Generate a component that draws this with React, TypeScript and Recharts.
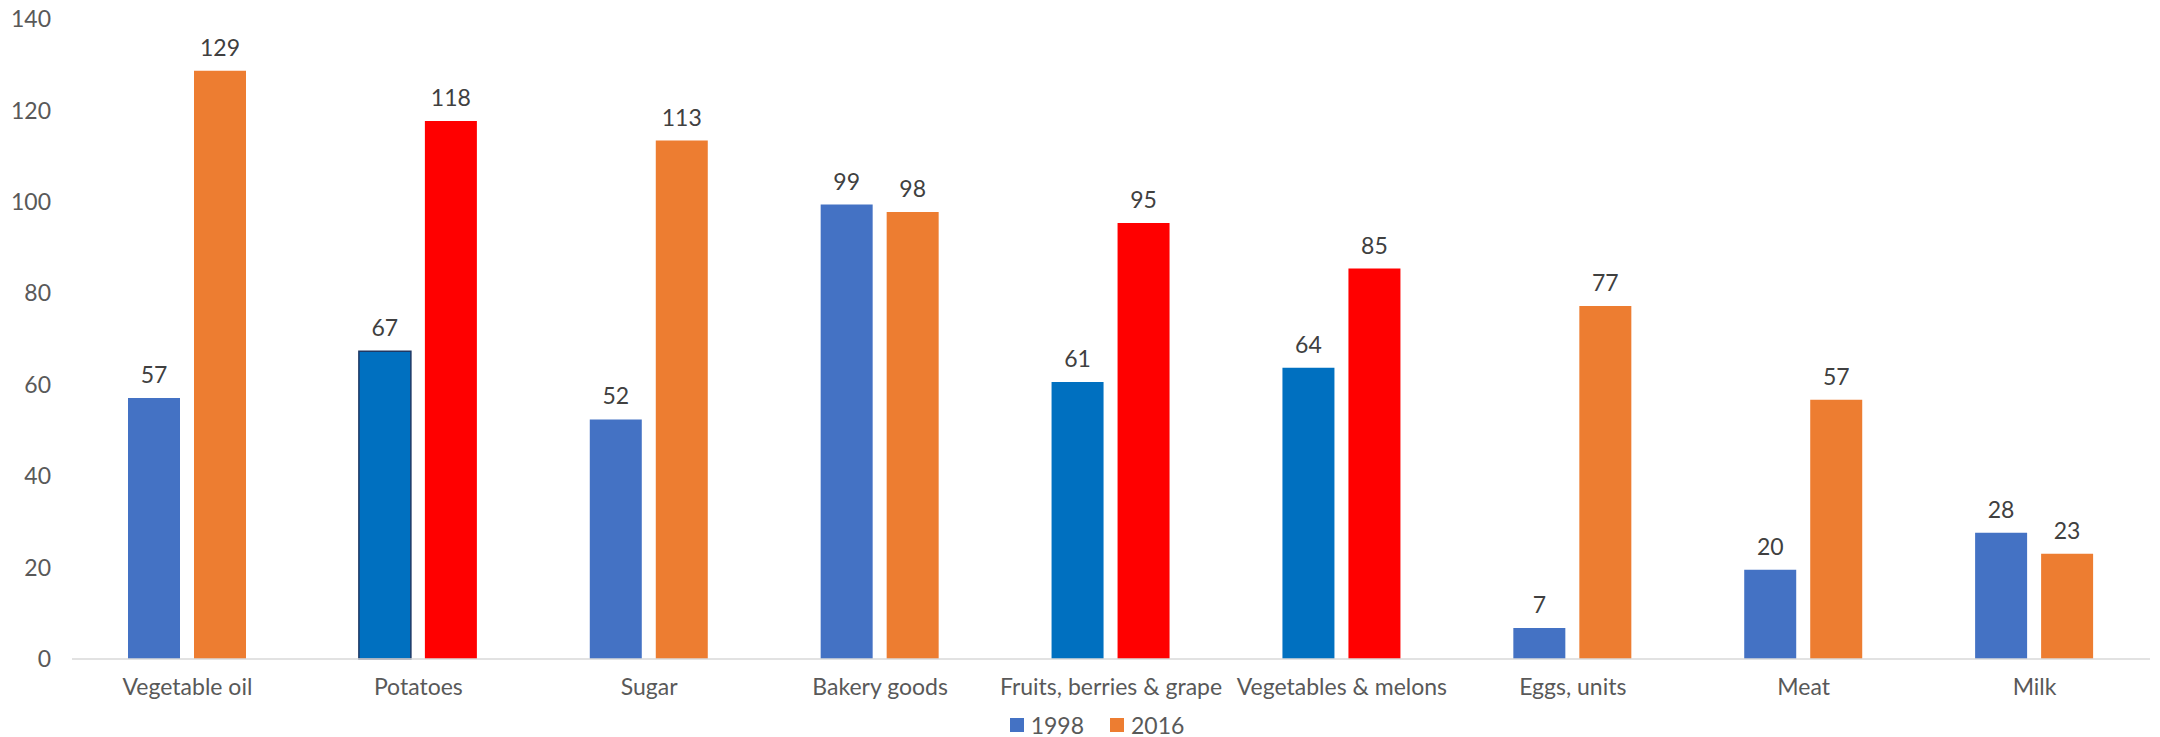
import React from 'react';
import { BarChart, Bar, XAxis, YAxis, Legend, Cell, LabelList } from 'recharts';

const categories = [
  'Vegetable oil',
  'Potatoes',
  'Sugar',
  'Bakery goods',
  'Fruits, berries & grape',
  'Vegetables & melons',
  'Eggs, units',
  'Meat',
  'Milk',
];
const values1998 = [57.1, 67.3, 52.4, 99.4, 60.6, 63.7, 6.8, 19.5, 27.6];
const values2016 = [128.7, 117.7, 113.4, 97.8, 95.4, 85.4, 77.2, 56.7, 23.0];
const highlighted = ['Potatoes', 'Fruits, berries & grape', 'Vegetables & melons'];
const outlined = ['Potatoes'];
const yTicks = [0, 20, 40, 60, 80, 100, 120, 140];
const seriesNames = ['1998', '2016'];
const seriesColors = ['#4472C4', '#ED7D31'];

const data = categories.map((c, i) => ({ name: c, v1998: values1998[i], v2016: values2016[i] }));

const FONT = 'Lato, "Open Sans", sans-serif';

const LegendContent = () => (
  <div
    style={{
      display: 'flex',
      justifyContent: 'center',
      alignItems: 'center',
      gap: 26,
      paddingLeft: 44,
      height: 24,
      fontFamily: FONT,
      fontSize: 23,
      color: '#595959',
    }}
  >
    {seriesNames.map((n, i) => (
      <div key={n} style={{ display: 'flex', alignItems: 'center', gap: 7 }}>
        <div style={{ width: 14, height: 14, background: seriesColors[i] }} />
        <span>{n}</span>
      </div>
    ))}
  </div>
);

export default function App() {
  const fmt = (v: any) => Math.round(Number(v)).toString();
  return (
    <div style={{ position: 'absolute', left: 0, top: 0, width: 2160, height: 737, background: '#fff', fontFamily: FONT }}>
      <BarChart
        width={2160}
        height={737}
        data={data}
        margin={{ top: 19, right: 10, left: 0, bottom: 0 }}
        barSize={52}
        barGap={14}
      >
        <XAxis
          dataKey="name"
          interval={0}
          tickLine={false}
          axisLine={{ stroke: '#D9D9D9', strokeWidth: 1.5 }}
          tick={{ fill: '#595959', fontSize: 23, fontFamily: FONT }}
          tickMargin={14}
          height={54}
        />
        <YAxis
          domain={[0, 140]}
          ticks={yTicks}
          axisLine={false}
          tickLine={false}
          width={72}
          tickMargin={15}
          tick={{ fill: '#595959', fontSize: 23, fontFamily: FONT }}
          interval={0}
        />
        <Legend verticalAlign="bottom" content={<LegendContent />} />
        <Bar dataKey="v1998" name={seriesNames[0]} fill={seriesColors[0]} isAnimationActive={false}>
          {data.map((d) => (
            <Cell
              key={d.name}
              fill={highlighted.includes(d.name) ? '#0070C0' : seriesColors[0]}
              stroke={outlined.includes(d.name) ? '#1F3864' : 'none'}
              strokeWidth={outlined.includes(d.name) ? 1.5 : 0}
            />
          ))}
          <LabelList dataKey="v1998" position="top" offset={15} formatter={fmt} fill="#404040" fontSize={23} fontFamily={FONT} />
        </Bar>
        <Bar dataKey="v2016" name={seriesNames[1]} fill={seriesColors[1]} isAnimationActive={false}>
          {data.map((d) => (
            <Cell key={d.name} fill={highlighted.includes(d.name) ? '#FF0000' : seriesColors[1]} />
          ))}
          <LabelList dataKey="v2016" position="top" offset={15} formatter={fmt} fill="#404040" fontSize={23} fontFamily={FONT} />
        </Bar>
      </BarChart>
    </div>
  );
}
